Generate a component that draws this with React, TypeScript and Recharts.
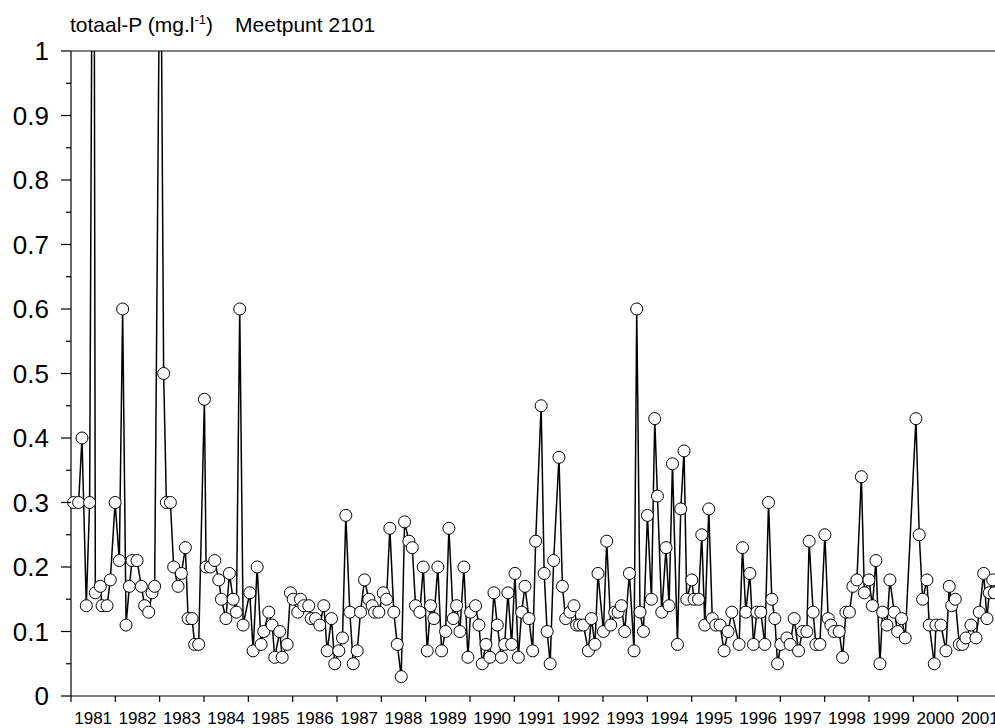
import React from 'react';
import { LineChart, Line, XAxis, YAxis, ReferenceLine } from 'recharts';

// sample dates (decimal years) and totaal-P (mg/l), Meetpunt 2101
const sampleDates = [
  1981.059, 1981.172, 1981.248, 1981.345, 1981.42, 1981.51, 1981.549, 1981.661, 1981.7, 1981.813, 1981.887, 1981.995,
  1982.09, 1982.165, 1982.242, 1982.316, 1982.377, 1982.49, 1982.587, 1982.661, 1982.752, 1982.828, 1982.887, 1983.016,
  1983.09, 1983.151, 1983.242, 1983.316, 1983.415, 1983.49, 1983.58, 1983.641, 1983.731, 1983.79, 1983.88, 1984.009,
  1984.047, 1984.144, 1984.242, 1984.332, 1984.393, 1984.494, 1984.573, 1984.657, 1984.731, 1984.806, 1984.883, 1985.032,
  1985.108, 1985.199, 1985.289, 1985.348, 1985.461, 1985.537, 1985.596, 1985.709, 1985.763, 1985.876, 1985.95, 1986.011,
  1986.115, 1986.176, 1986.251, 1986.363, 1986.418, 1986.515, 1986.612, 1986.702, 1986.779, 1986.876, 1986.95, 1987.041,
  1987.124, 1987.199, 1987.289, 1987.366, 1987.456, 1987.53, 1987.621, 1987.718, 1987.795, 1987.847, 1987.944, 1988.043,
  1988.117, 1988.192, 1988.282, 1988.359, 1988.449, 1988.524, 1988.621, 1988.698, 1988.772, 1988.869, 1988.946, 1989.036,
  1989.111, 1989.185, 1989.275, 1989.359, 1989.449, 1989.524, 1989.623, 1989.698, 1989.772, 1989.862, 1989.953, 1990.014,
  1990.126, 1990.201, 1990.278, 1990.359, 1990.449, 1990.54, 1990.616, 1990.707, 1990.781, 1990.856, 1990.939, 1991.014,
  1991.09, 1991.165, 1991.239, 1991.33, 1991.413, 1991.481, 1991.605, 1991.673, 1991.74, 1991.808, 1991.887, 1992.007,
  1992.084, 1992.158, 1992.255, 1992.345, 1992.406, 1992.474, 1992.558, 1992.67, 1992.738, 1992.819, 1992.887, 1993.009,
  1993.084, 1993.174, 1993.264, 1993.339, 1993.415, 1993.49, 1993.596, 1993.7, 1993.761, 1993.835, 1993.912, 1994.002,
  1994.093, 1994.167, 1994.228, 1994.325, 1994.422, 1994.49, 1994.567, 1994.679, 1994.754, 1994.828, 1994.889, 1995.002,
  1995.054, 1995.154, 1995.228, 1995.296, 1995.386, 1995.465, 1995.544, 1995.641, 1995.731, 1995.822, 1995.905, 1996.07,
  1996.147, 1996.221, 1996.312, 1996.395, 1996.47, 1996.56, 1996.65, 1996.734, 1996.808, 1996.876, 1996.937, 1997.011,
  1997.147, 1997.221, 1997.312, 1997.411, 1997.501, 1997.598, 1997.65, 1997.74, 1997.801, 1997.892, 1998.005, 1998.079,
  1998.14, 1998.214, 1998.327, 1998.404, 1998.479, 1998.558, 1998.637, 1998.727, 1998.828, 1998.896, 1998.998, 1999.077,
  1999.156, 1999.246, 1999.307, 1999.404, 1999.472, 1999.569, 1999.646, 1999.736, 1999.817, 2000.059, 2000.133, 2000.21,
  2000.307, 2000.359, 2000.472, 2000.51, 2000.623, 2000.736, 2000.81, 2000.865, 2000.946, 2001.036, 2001.113, 2001.187,
  2001.3, 2001.413, 2001.488, 2001.587, 2001.661, 2001.713, 2001.79, 2001.826,
];

const totalP = [
  0.3, 0.3, 0.4, 0.14, 0.3, 1.7, 0.16, 0.17, 0.14, 0.14, 0.18, 0.3,
  0.21, 0.6, 0.11, 0.17, 0.21, 0.21, 0.17, 0.14, 0.13, 0.16, 0.17, 1.3,
  0.5, 0.3, 0.3, 0.2, 0.17, 0.19, 0.23, 0.12, 0.12, 0.08, 0.08, 0.46,
  0.2, 0.2, 0.21, 0.18, 0.15, 0.12, 0.19, 0.15, 0.13, 0.6, 0.11, 0.16,
  0.07, 0.2, 0.08, 0.1, 0.13, 0.11, 0.06, 0.1, 0.06, 0.08, 0.16, 0.15,
  0.13, 0.15, 0.14, 0.14, 0.12, 0.12, 0.11, 0.14, 0.07, 0.12, 0.05, 0.07,
  0.09, 0.28, 0.13, 0.05, 0.07, 0.13, 0.18, 0.15, 0.14, 0.13, 0.13, 0.16,
  0.15, 0.26, 0.13, 0.08, 0.03, 0.27, 0.24, 0.23, 0.14, 0.13, 0.2, 0.07,
  0.14, 0.12, 0.2, 0.07, 0.1, 0.26, 0.12, 0.14, 0.1, 0.2, 0.06, 0.13,
  0.14, 0.11, 0.05, 0.08, 0.06, 0.16, 0.11, 0.06, 0.08, 0.16, 0.08, 0.19,
  0.06, 0.13, 0.17, 0.12, 0.07, 0.24, 0.45, 0.19, 0.1, 0.05, 0.21, 0.37,
  0.17, 0.12, 0.13, 0.14, 0.11, 0.11, 0.11, 0.07, 0.12, 0.08, 0.19, 0.1,
  0.24, 0.11, 0.13, 0.13, 0.14, 0.1, 0.19, 0.07, 0.6, 0.13, 0.1, 0.28,
  0.15, 0.43, 0.31, 0.13, 0.23, 0.14, 0.36, 0.08, 0.29, 0.38, 0.15, 0.18,
  0.15, 0.15, 0.25, 0.11, 0.29, 0.12, 0.11, 0.11, 0.07, 0.1, 0.13, 0.08,
  0.23, 0.13, 0.19, 0.08, 0.13, 0.13, 0.08, 0.3, 0.15, 0.12, 0.05, 0.08,
  0.09, 0.08, 0.12, 0.07, 0.1, 0.1, 0.24, 0.13, 0.08, 0.08, 0.25, 0.12,
  0.11, 0.1, 0.1, 0.06, 0.13, 0.13, 0.17, 0.18, 0.34, 0.16, 0.18, 0.14,
  0.21, 0.05, 0.13, 0.11, 0.18, 0.13, 0.1, 0.12, 0.09, 0.43, 0.25, 0.15,
  0.18, 0.11, 0.05, 0.11, 0.11, 0.07, 0.17, 0.14, 0.15, 0.08, 0.08, 0.09,
  0.11, 0.09, 0.13, 0.19, 0.12, 0.16, 0.18, 0.16,
];

const yearTicks = [
  1981, 1982, 1983, 1984, 1985, 1986, 1987, 1988, 1989, 1990, 1991,
  1992, 1993, 1994, 1995, 1996, 1997, 1998, 1999, 2000, 2001,
];
const yTicks = [
  0, 0.05, 0.1, 0.15, 0.2, 0.25, 0.3, 0.35, 0.4, 0.45, 0.5,
  0.55, 0.6, 0.65, 0.7, 0.75, 0.8, 0.85, 0.9, 0.95, 1,
];

const data = sampleDates.map((t, i) => ({ t, p: totalP[i] }));
const labelTicks = yearTicks.map(y => y + 0.5);

const FONT = '"Liberation Sans", Arial, Helvetica, sans-serif';

function YTick(props: any) {
  const { x, y, payload } = props;
  const major = Math.round(payload.value * 100) % 10 === 0;
  // x is already shifted left by tickSize + tickMargin (22px)
  return (
    <g>
      <line x1={x + (major ? 12 : 17)} x2={x + 22} y1={y} y2={y} stroke="#000" strokeWidth={1.2} />
      {major && (
        <text x={x} y={y} dy="0.36em" textAnchor="end" fontSize={26} fill="#000" fontFamily={FONT}>
          {Math.round(payload.value * 10) / 10}
        </text>
      )}
    </g>
  );
}

export default function App() {
  return (
    <div style={{ position: 'absolute', left: 0, top: 0, width: 995, height: 728, overflow: 'hidden', background: '#fff' }}>
      <div style={{ position: 'absolute', left: 70, top: 12, fontFamily: FONT, fontSize: 21, color: '#000', whiteSpace: 'nowrap' }}>
        totaal-P (mg.l<sup style={{ fontSize: 13 }}>-1</sup>)
        <span style={{ marginLeft: 22 }}>Meetpunt 2101</span>
      </div>
      <LineChart width={1002} height={728} data={data} margin={{ top: 51, right: 0, bottom: 0, left: 0 }}>
        <XAxis
          xAxisId="a"
          dataKey="t"
          type="number"
          domain={[1981, 2002]}
          ticks={yearTicks}
          tickFormatter={() => ''}
          tickSize={6}
          height={1}
          interval={0}
          axisLine={{ stroke: '#000', strokeWidth: 1.2 }}
          tickLine={{ stroke: '#000', strokeWidth: 1.2 }}
        />
        <XAxis
          xAxisId="b"
          dataKey="t"
          type="number"
          domain={[1981, 2002]}
          ticks={labelTicks}
          tickFormatter={v => String(Math.floor(v))}
          tickSize={0}
          tickMargin={15}
          height={31}
          interval={0}
          axisLine={false}
          tickLine={false}
          tick={{ fontSize: 17, fill: '#000', fontFamily: FONT }}
        />
        <YAxis
          domain={[0, 1]}
          allowDataOverflow
          ticks={yTicks}
          interval={0}
          width={71}
          tickSize={10}
          tickMargin={12}
          tickLine={false}
          tick={<YTick />}
          axisLine={{ stroke: '#000', strokeWidth: 1.2 }}
        />
        <ReferenceLine xAxisId="a" y={1} stroke="#000" strokeWidth={1.2} />
        <Line
          xAxisId="a"
          dataKey="p"
          type="linear"
          stroke="#000"
          strokeWidth={1.5}
          dot={{ r: 6, fill: '#fff', stroke: '#000', strokeWidth: 1, clipDot: false }}
          activeDot={false}
          isAnimationActive={false}
        />
      </LineChart>
    </div>
  );
}
